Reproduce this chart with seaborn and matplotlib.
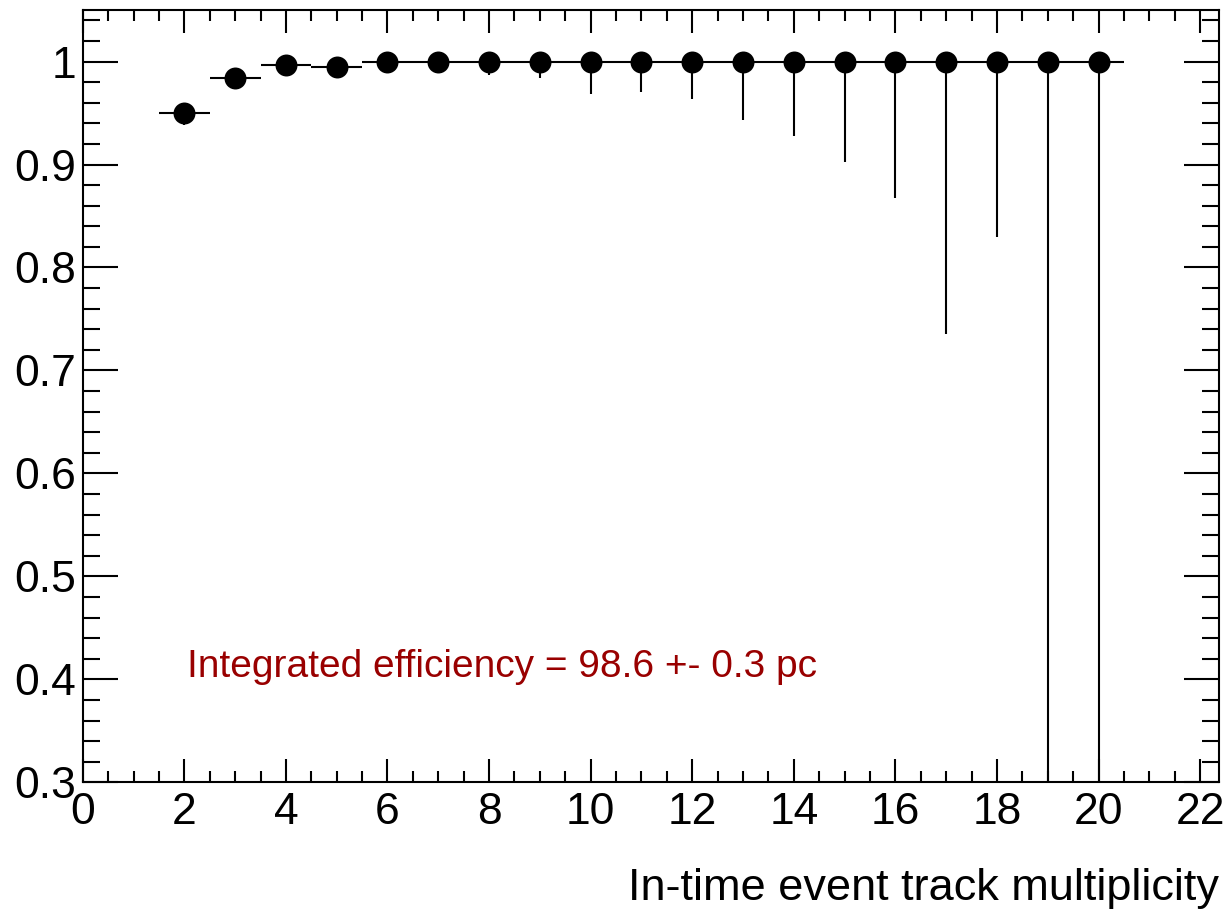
import numpy as np
import pandas as pd
import matplotlib
matplotlib.use("Agg")
import matplotlib.pyplot as plt
import seaborn as sns
from matplotlib.ticker import MultipleLocator

# ---- data ----
multiplicity = [2, 3, 4, 5, 6, 7, 8, 9, 10, 11, 12, 13, 14, 15, 16, 17, 18, 19, 20]
efficiency = [0.950, 0.984, 0.997, 0.9945, 1.0, 1.0, 1.0, 1.0, 1.0, 1.0,
              1.0, 1.0, 1.0, 1.0, 1.0, 1.0, 1.0, 1.0, 1.0]
err_low = [0.012, 0.004, 0.003, 0.003, 0.002, 0.003, 0.013, 0.016, 0.032, 0.030,
           0.036, 0.057, 0.072, 0.098, 0.133, 0.265, 0.170, 1.0, 1.0]
err_high = [0.010, 0.004, 0.002, 0.003, 0.0, 0.0, 0.0, 0.0, 0.0, 0.0,
            0.0, 0.0, 0.0, 0.0, 0.0, 0.0, 0.0, 0.0, 0.0]
bin_half_width = [0.5] * len(multiplicity)

x_label = "In-time event track multiplicity"
annotation = "Integrated efficiency = 98.6 +- 0.3 pc"

df = pd.DataFrame({"mult": multiplicity, "eff": efficiency})

sns.set_theme(style="white")
plt.rcParams['font.family'] = ['Liberation Sans', 'DejaVu Sans']

fig = plt.figure(figsize=(12.29, 9.14), dpi=100)
ax = fig.add_axes([0.0673, 0.1441, 0.9246, 0.8449])

ax.errorbar(multiplicity, efficiency, yerr=[err_low, err_high], xerr=bin_half_width,
            fmt='none', ecolor='black', elinewidth=1.5, capsize=0, zorder=2)
sns.scatterplot(data=df, x="mult", y="eff", ax=ax, color='black', s=250,
                edgecolor='black', linewidth=0, zorder=3, legend=False)

ax.set_xlim(0, 22.37)
ax.set_ylim(0.3, 1.05)
ax.xaxis.set_major_locator(MultipleLocator(2))
ax.xaxis.set_minor_locator(MultipleLocator(0.5))
ax.yaxis.set_major_locator(MultipleLocator(0.1))
ax.yaxis.set_minor_locator(MultipleLocator(0.02))

def fmt_y(v, pos):
    s = f"{v:.1f}"
    return "1" if abs(v - 1) < 1e-9 else s
ax.yaxis.set_major_formatter(plt.FuncFormatter(fmt_y))

ax.tick_params(axis='both', which='both', direction='in', top=True, right=True,
               left=True, bottom=True,
               color='black', width=1.5, labelsize=32, labelcolor='black')
ax.tick_params(axis='y', which='major', length=25, pad=5)
ax.tick_params(axis='y', which='minor', length=12.5)
ax.tick_params(axis='x', which='major', length=16.5, pad=7)
ax.tick_params(axis='x', which='minor', length=8)

for sp in ax.spines.values():
    sp.set_color('black')
    sp.set_linewidth(1.5)
    sp.set_visible(True)

ax.set_xlabel("")
ax.set_ylabel("")
fig.text(0.992, 0.028, x_label, ha='right', va='center', fontsize=32.5, color='black')
ax.text(2.05, 0.412, annotation, ha='left', va='center', fontsize=28, color='#990000')

fig.savefig("out.png", dpi=100, facecolor='white')
